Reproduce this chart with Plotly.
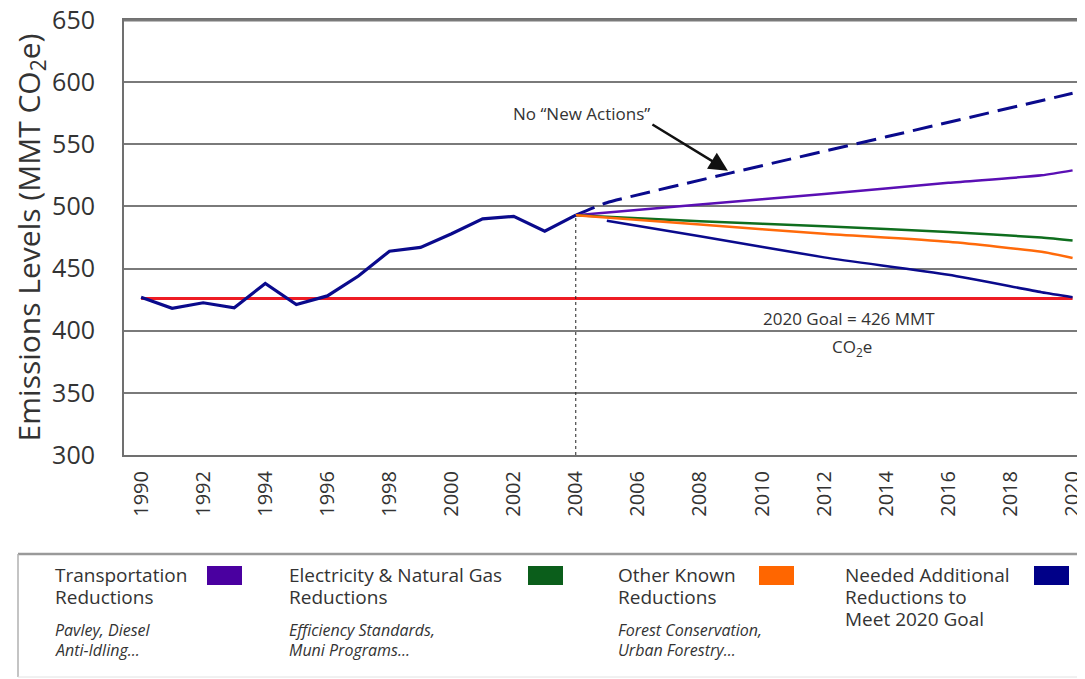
import plotly.graph_objects as go

# ---------------- data ----------------
hist_years = list(range(1990, 2005))
hist_values = [427, 418, 422.5, 418.5, 438, 421, 428, 444, 464, 467, 478, 490, 492, 480, 493]

goal_years = [1990, 2020]
goal_values = [426, 426]

noaction_years = [2004, 2005, 2009, 2014, 2020]
noaction_values = [493, 503, 527, 556, 591]

transport_years = [2004, 2008, 2012, 2016, 2019, 2020]
transport_values = [493, 501.5, 510, 519, 525, 529]

electric_years = [2004, 2008, 2012, 2016, 2019, 2020]
electric_values = [493, 488, 484, 479.5, 475, 472.5]

other_years = [2004, 2008, 2012, 2016, 2019, 2020]
other_values = [493, 485.5, 478, 471.5, 463.5, 458.5]

needed_years = [2005, 2008, 2012, 2016, 2019, 2020]
needed_values = [488.5, 476, 459, 445, 431, 427]

base_year = 2004
base_value = 493

x_ticks = list(range(1990, 2021, 2))
y_ticks = list(range(300, 651, 50))

legend_titles = [
    ["Transportation", "Reductions"],
    ["Electricity & Natural Gas", "Reductions"],
    ["Other Known", "Reductions"],
    ["Needed Additional", "Reductions to", "Meet 2020 Goal"],
]
legend_subs = [
    ["Pavley, Diesel", "Anti-Idling..."],
    ["Efficiency Standards,", "Muni Programs..."],
    ["Forest Conservation,", "Urban Forestry..."],
    [],
]

# ---------------- style ----------------
NAVY = "#0a0a8c"
PURPLE = "#5a0fb4"
GREEN = "#0f6e1e"
ORANGE = "#ff6a0a"
RED = "#ee1c24"
LEG_COLORS = ["#4a00a0", "#0b5e1b", "#ff6600", "#000088"]
TXT = "#333333"
FONT = "Open Sans"
GRID = "#7a7a7a"

OFF = 8  # page body margin
W, H = 1085 - OFF, 679 - OFF
L, R, T, B = 124 - OFF, 0, 20 - OFF, 224
plot_w = W - L - R
plot_h = H - T - B


def px(xp):
    return (xp - OFF - L) / plot_w


def py(yp):
    return ((H - B) - (yp - OFF)) / plot_h


fig = go.Figure()

fig.add_trace(go.Scatter(x=goal_years, y=goal_values, mode="lines",
                         line=dict(color=RED, width=3), showlegend=False))
fig.add_trace(go.Scatter(x=noaction_years, y=noaction_values, mode="lines",
                         line=dict(color=NAVY, width=3, dash="20px,9px", shape="spline", smoothing=0.4),
                         showlegend=False))
fig.add_trace(go.Scatter(x=transport_years, y=transport_values, mode="lines",
                         line=dict(color=PURPLE, width=2.5, shape="spline", smoothing=0.6), showlegend=False))
fig.add_trace(go.Scatter(x=electric_years, y=electric_values, mode="lines",
                         line=dict(color=GREEN, width=2.5, shape="spline", smoothing=0.6), showlegend=False))
fig.add_trace(go.Scatter(x=other_years, y=other_values, mode="lines",
                         line=dict(color=ORANGE, width=2.5, shape="spline", smoothing=0.6), showlegend=False))
fig.add_trace(go.Scatter(x=needed_years, y=needed_values, mode="lines",
                         line=dict(color=NAVY, width=2.5, shape="spline", smoothing=0.6), showlegend=False))
fig.add_trace(go.Scatter(x=hist_years, y=hist_values, mode="lines",
                         line=dict(color=NAVY, width=3.2), showlegend=False))

# vertical dotted line at 2004
fig.add_shape(type="line", xref="x", yref="y", x0=base_year, x1=base_year,
              y0=300, y1=base_value, line=dict(color="#222222", width=1, dash="dot"))
# top frame line at the 650 edge of the plot
fig.add_shape(type="line", xref="paper", yref="paper", x0=0, x1=1, y0=0.999, y1=0.999,
              line=dict(color=GRID, width=2))

# annotations in chart
fig.add_annotation(x=2004.2, y=574.5, xref="x", yref="y", text="No \u201cNew Actions\u201d",
                   showarrow=False, font=dict(family=FONT, size=17, color=TXT))
fig.add_annotation(x=2008.9, y=528.8, xref="x", yref="y", text="",
                   showarrow=True, ax=-77, ay=-47, arrowhead=2, arrowsize=1.5,
                   arrowwidth=2.5, arrowcolor="#111111", standoff=0)
fig.add_annotation(x=2012.8, y=409.5, xref="x", yref="y", text="2020 Goal = 426 MMT",
                   showarrow=False, font=dict(family=FONT, size=17, color=TXT))
fig.add_annotation(x=2012.9, y=386.8, xref="x", yref="y", text="CO<sub>2</sub>e",
                   showarrow=False, font=dict(family=FONT, size=17, color=TXT))

# legend box
fig.add_shape(type="line", xref="paper", yref="paper", x0=px(18), x1=px(1090),
              y0=py(554), y1=py(554), line=dict(color="#9a9a9a", width=2.5))
fig.add_shape(type="line", xref="paper", yref="paper", x0=px(18), x1=px(18),
              y0=py(554), y1=py(677), line=dict(color="#b0b0b0", width=1.5))
fig.add_shape(type="line", xref="paper", yref="paper", x0=px(18), x1=px(1090),
              y0=py(677), y1=py(677), line=dict(color="#e2e2e2", width=1))

text_x = [53, 287, 616, 843]
rect_x = [207, 528, 759, 1034]
title_y = [575, 597, 619]
sub_y = [630, 650]
for titles, subs, tx, rx, col in zip(legend_titles, legend_subs, text_x, rect_x, LEG_COLORS):
    fig.add_shape(type="rect", xref="paper", yref="paper", x0=px(rx), x1=px(rx + 35),
                  y0=py(566), y1=py(585), fillcolor=col, line=dict(color=col, width=0))
    for line_text, yy in zip(titles, title_y):
        fig.add_annotation(x=px(tx), y=py(yy), xref="paper", yref="paper", text=line_text,
                           xanchor="left", yanchor="middle", align="left", showarrow=False,
                           font=dict(family=FONT, size=19, color=TXT))
    for line_text, yy in zip(subs, sub_y):
        fig.add_annotation(x=px(tx), y=py(yy), xref="paper", yref="paper",
                           text="<i>" + line_text + "</i>",
                           xanchor="left", yanchor="middle", align="left", showarrow=False,
                           font=dict(family=FONT, size=16, color=TXT))

fig.update_layout(
    width=W, height=H,
    margin=dict(l=L, r=R, t=T, b=B, autoexpand=False),
    paper_bgcolor="white", plot_bgcolor="white",
    font=dict(family=FONT, color=TXT),
    xaxis=dict(range=[1989.45, 2020.4], tickvals=x_ticks, ticktext=[str(v) for v in x_ticks],
               tickangle=-90, tickfont=dict(size=20, color=TXT), showgrid=False,
               showline=True, mirror=True, linecolor="#707070", linewidth=2, zeroline=False,
               ticks="", ticklabelstandoff=6, ticklabeloverflow="allow", automargin=False),
    yaxis=dict(range=[300, 650], tickvals=y_ticks, ticktext=[str(v) for v in y_ticks],
               tickfont=dict(size=25, color=TXT), showgrid=True, gridcolor=GRID, gridwidth=2,
               showline=True, linecolor="#707070", linewidth=2, zeroline=False,
               ticks="", ticklabelstandoff=22, ticklabeloverflow="allow", automargin=False,
               title=dict(text="Emissions Levels (MMT CO<sub>2</sub>e)",
                          font=dict(size=30, color=TXT), standoff=10)),
)

fig.write_html("out.html")
